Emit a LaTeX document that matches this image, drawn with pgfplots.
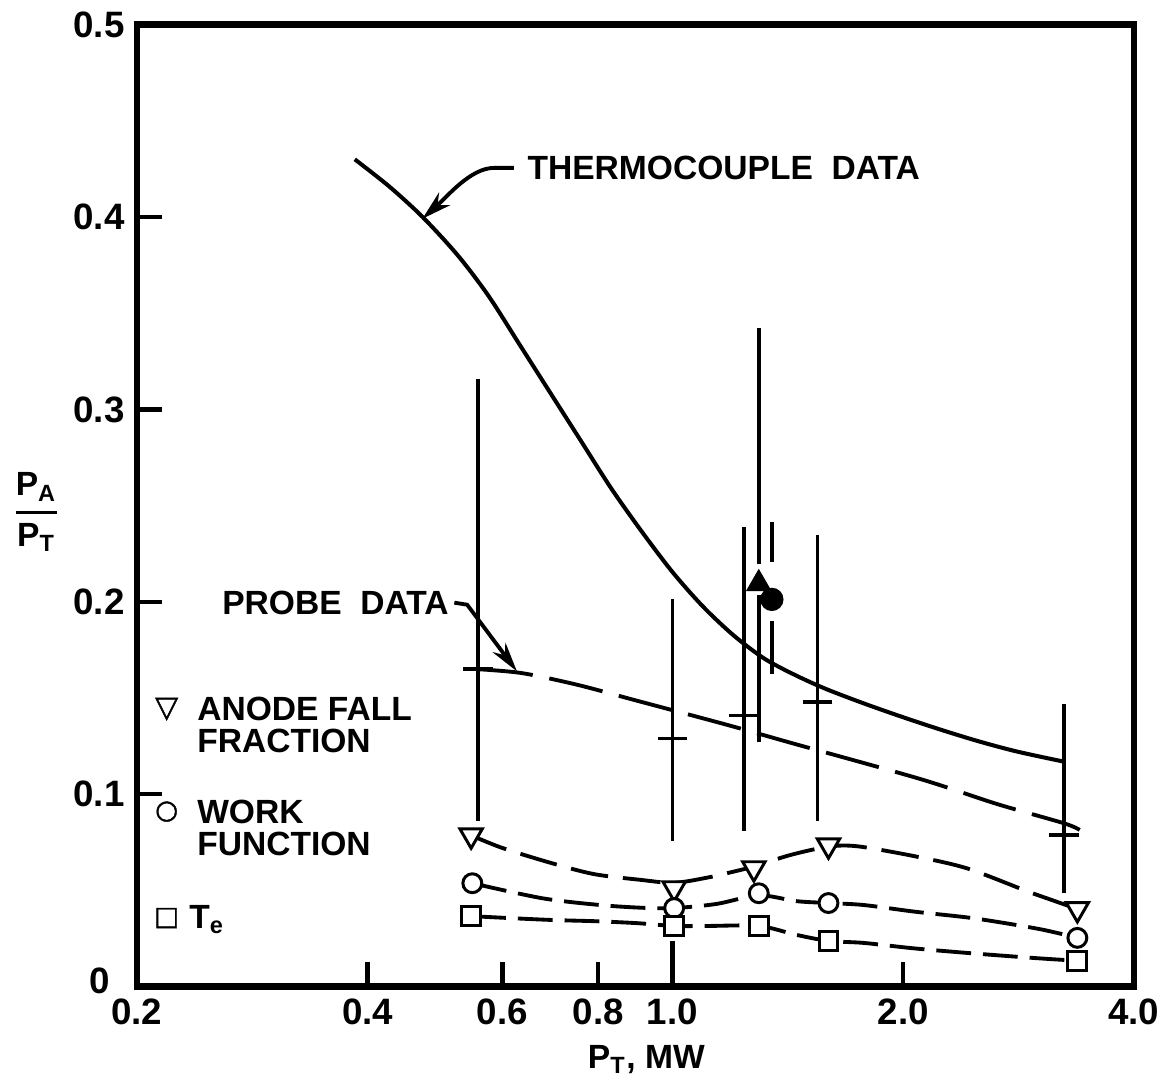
\documentclass[border=0pt]{standalone}
\usepackage{amsmath}
\usepackage{fontspec}
\setmainfont{Liberation Sans}
\newfontfamily\symfont[FakeBold=1.5]{DejaVu Sans}
\usepackage{pgfplots}
\pgfplotsset{compat=1.18}
\usetikzlibrary{arrows.meta}
\newcommand{\lbl}{\bfseries\fontsize{9.6}{9.4}\selectfont}
\begin{document}
\begin{tikzpicture}
\begin{axis}[
  scale only axis, width=100.2mm, height=96.7mm,
  xmode=log, xmin=0.2, xmax=4.0, ymin=0, ymax=0.5,
  axis line style={line width=1.9pt},
  tick align=inside, tick pos=left,
  major tick length=2.5mm,
  tick style={line width=1.2pt, black},
  xminorticks=false, yminorticks=false,
  xtick={0.2,0.4,0.6,0.8,2,4}, xticklabels={0.2,0.4,0.6,0.8,2.0,4.0},
  extra x ticks={1}, extra x tick labels={1.0},
  extra x tick style={major tick length=4.6mm},
  ytick={0.1,0.2,0.3,0.4,0.5}, yticklabels={0.1,0.2,0.3,0.4,0.5},
  extra y ticks={0}, extra y tick labels={0},
  extra y tick style={major tick length=0pt, yticklabel style={xshift=-1.5mm, yshift=0.6mm}},
  ticklabel style={font=\bfseries\fontsize{10.5}{12}\selectfont},
  clip=false,
]
% thermocouple data
\addplot[black, line width=1.15pt, smooth, tension=0.5] coordinates {
(0.385,0.430) (0.4266,0.416) (0.472,0.400) (0.5248,0.380) (0.5754,0.359) (0.631,0.334)
(0.6918,0.309) (0.7586,0.284) (0.8318,0.259) (0.912,0.2365) (1.0,0.2155) (1.0965,0.1975)
(1.2023,0.1825) (1.3183,0.1705) (1.4454,0.162) (1.5849,0.1548) (1.7783,0.1472) (1.9953,0.1402)
(2.2387,0.1336) (2.5119,0.1275) (2.8184,0.1222) (3.24,0.117)};
% probe data fit
\addplot[black, line width=1.1pt, dash pattern=on 5.5mm off 1.7mm, smooth] coordinates {
(0.558,0.165) (0.636,0.163) (0.75,0.157) (0.892,0.149) (1.181,0.136) (1.435,0.1265)
(2.104,0.108) (2.65,0.095) (3.24,0.085) (3.40,0.0815)};
% anode fall fraction
\addplot[black, line width=1.1pt, dash pattern=on 3.8mm off 1.5mm, smooth] coordinates {
(0.546,0.0787) (0.599,0.0722) (0.696,0.0642) (0.791,0.0585) (0.911,0.0555) (1.005,0.054)
(1.113,0.0568) (1.192,0.0595) (1.277,0.0625) (1.426,0.0685) (1.598,0.0728) (1.743,0.0730)
(2.06,0.068) (2.42,0.0616) (2.90,0.0497) (3.13,0.045) (3.376,0.0404)};
% work function
\addplot[black, line width=1.1pt, dash pattern=on 3.5mm off 1.2mm, smooth] coordinates {
(0.548,0.0538) (0.676,0.046) (0.808,0.0424) (0.919,0.041) (1.005,0.0409) (1.14,0.043)
(1.296,0.0475) (1.45,0.0445) (1.598,0.0435) (1.774,0.0425) (2.073,0.039) (2.48,0.0355)
(3.01,0.030) (3.376,0.0254)};
% Te
\addplot[black, line width=1.1pt, dash pattern=on 3.5mm off 1.2mm, smooth] coordinates {
(0.546,0.0367) (0.612,0.0357) (0.696,0.0347) (0.801,0.034) (0.903,0.033) (1.005,0.0316)
(1.113,0.0316) (1.296,0.0316) (1.45,0.027) (1.598,0.0238) (1.774,0.0228) (2.06,0.020)
(2.42,0.0176) (2.95,0.015) (3.376,0.0135)};
% probe data points with error bars
\addplot[black, only marks, mark=-, mark size=1.5mm, mark options={line width=1.1pt},
  error bars/.cd, y dir=both, y explicit, error mark=none,
  error bar style={line width=1.1pt}] coordinates {
(0.558,0.165) += (0,0.151) -= (0,0.079)
(1.0,0.129) += (0,0.0723) -= (0,0.053)
(1.239,0.141) += (0,0.098) -= (0,0.060)
(1.546,0.148) += (0,0.087) -= (0,0.062)
(3.24,0.079) += (0,0.068) -= (0,0.0304)};
% bars around the filled points
\addplot[black, line width=1.1pt] coordinates {(1.296,0.127) (1.296,0.2035)};
\addplot[black, line width=1.1pt] coordinates {(1.296,0.2195) (1.296,0.3426)};
\addplot[black, line width=1.1pt] coordinates {(1.348,0.1625) (1.348,0.190)};
\addplot[black, line width=1.1pt] coordinates {(1.348,0.2205) (1.348,0.2417)};
\addplot[black, only marks, mark=triangle*, mark size=1.35mm] coordinates {(1.296,0.2095)};
\addplot[black, only marks, mark=*, mark size=1.1mm] coordinates {(1.348,0.2013)};
% markers
\addplot[black, only marks, mark=triangle*, mark size=1.3mm,
  mark options={rotate=180, fill=white, draw=black, line width=0.85pt}] coordinates {
(0.546,0.0787) (1.005,0.0512) (1.277,0.0616) (1.598,0.0735) (3.376,0.0404)};
\addplot[black, only marks, mark=*, mark size=0.95mm,
  mark options={fill=white, draw=black, line width=0.85pt}] coordinates {
(0.548,0.0538) (1.005,0.0409) (1.296,0.0486) (1.598,0.0435) (3.376,0.0254)};
\addplot[black, only marks, mark=square*, mark size=0.95mm,
  mark options={fill=white, draw=black, line width=0.85pt}] coordinates {
(0.546,0.0367) (1.005,0.0316) (1.296,0.0316) (1.598,0.0238) (3.376,0.0135)};
% annotations
\node[font=\lbl, anchor=west, inner sep=0pt] at (rel axis cs:0.3912,0.8511) {THERMOCOUPLE\ \ DATA};
\draw[line width=1.1pt, -{Stealth[length=3mm,width=1.7mm]}] (rel axis cs:0.3782,0.8511) -- (rel axis cs:0.3583,0.8511)
  .. controls (rel axis cs:0.335,0.8511) and (rel axis cs:0.312,0.822) .. (rel axis cs:0.2864,0.7983);
\node[font=\lbl, anchor=east, inner sep=0pt] at (rel axis cs:0.3134,0.3992) {PROBE\ \ DATA};
\draw[line width=1.1pt, -{Stealth[length=3mm,width=1.6mm]}] (rel axis cs:0.3184,0.3992) -- (rel axis cs:0.3313,0.3971) -- (rel axis cs:0.3812,0.3278);
% legend texts
\node[font=\symfont\fontsize{8.5}{9}\selectfont, inner sep=0pt] at (rel axis cs:0.0299,0.2885) {▽};
\node[font=\lbl, anchor=west, inner sep=0pt] at (rel axis cs:0.0599,0.2885) {ANODE FALL};
\node[font=\lbl, anchor=west, inner sep=0pt] at (rel axis cs:0.0599,0.2554) {FRACTION};
\node[font=\symfont\fontsize{7.5}{8}\selectfont, inner sep=0pt] at (rel axis cs:0.0299,0.1820) {○};
\node[font=\lbl, anchor=west, inner sep=0pt] at (rel axis cs:0.0599,0.1820) {WORK};
\node[font=\lbl, anchor=west, inner sep=0pt] at (rel axis cs:0.0599,0.1489) {FUNCTION};
\node[font=\symfont\fontsize{7.5}{8}\selectfont, inner sep=0pt] at (rel axis cs:0.0299,0.0714) {□};
\node[font=\lbl, anchor=base west, inner sep=0pt] at (rel axis cs:0.0519,0.0610) {T\textsubscript{e}};
% axis labels
\node[font=\lbl] at (rel axis cs:-0.1008,0.4933) {$\genfrac{}{}{0.9pt}{0}{\textbf{P}_{\textbf{A}}}{\textbf{P}_{\textbf{T}}}$};
\node[font=\lbl] at (rel axis cs:0.511,-0.0755) {P\textsubscript{T}, MW};
\end{axis}
\path ([shift={(-13.3mm,-9.5mm)}]current axis.south west) rectangle ([shift={(3.6mm,2.2mm)}]current axis.north east);
\end{tikzpicture}
\end{document}
